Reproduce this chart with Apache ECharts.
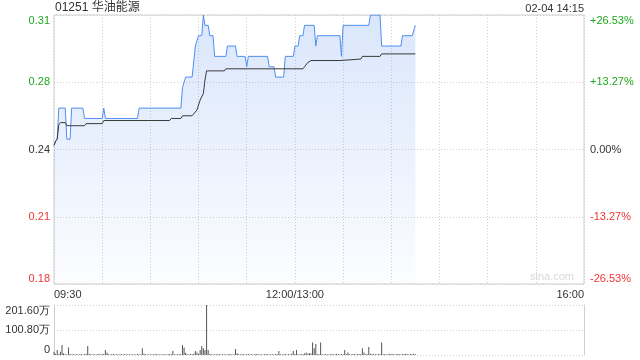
<!DOCTYPE html>
<html><head><meta charset="utf-8">
<script src="https://cdn.jsdelivr.net/npm/echarts@6/dist/echarts.min.js"></script>
<style>html,body{margin:0;padding:0;background:#fff}#c{width:640px;height:360px}</style>
</head><body><div id="c"></div>
<script>
const stockTitle = '01251 华油能源';
const stampText = '02-04 14:15';
const watermark = 'sina.com';

const priceTimes = ['09:30','09:31','09:32','09:33','09:37','09:38','09:40','09:41','09:48','09:49','10:00','10:01','10:02','10:22','10:23','10:49','10:50','10:51','10:52','10:56','10:58','10:59','11:00','11:02','11:03','11:04','11:06','11:07','11:09','11:10','11:17','11:18','11:23','11:24','11:29','11:30','11:31','11:43','11:44','11:47','11:48','11:53','11:54','11:59','12:00','13:02','13:03','13:05','13:06','13:12','13:13','13:14','13:28','13:29','13:30','13:46','13:47','13:53','13:54','14:06','14:07','14:13','14:14','14:15'];
const priceValues = [0.247,0.249,0.250,0.265,0.265,0.250,0.250,0.265,0.265,0.260,0.260,0.265,0.260,0.260,0.265,0.265,0.275,0.275,0.280,0.280,0.295,0.295,0.300,0.300,0.310,0.305,0.305,0.300,0.300,0.290,0.290,0.295,0.295,0.290,0.290,0.285,0.290,0.290,0.285,0.285,0.280,0.280,0.290,0.290,0.295,0.295,0.300,0.300,0.305,0.305,0.295,0.300,0.300,0.290,0.305,0.305,0.310,0.310,0.295,0.295,0.300,0.300,0.300,0.305];

const avgTimes = ['09:30','09:31','09:32','09:33','09:34','09:37','09:38','09:49','09:50','10:00','10:01','10:42','10:43','10:49','10:50','10:56','10:57','10:59','11:01','11:03','11:04','11:05','11:16','11:17','13:05','13:06','13:08','13:10','13:28','13:29','13:41','13:42','13:53','13:54','14:15'];
const avgValues = [0.247,0.249,0.250,0.257,0.258,0.258,0.2565,0.2565,0.2575,0.2575,0.259,0.259,0.260,0.260,0.2613,0.2613,0.2617,0.2641,0.2689,0.2721,0.2786,0.283,0.283,0.284,0.284,0.285,0.287,0.288,0.288,0.2887,0.2887,0.290,0.290,0.2912,0.2912];

// volume per minute from 09:30, in 万股
const volumes = [
13,5,20,4,13,40,7,3,2,30,
4,2,3,2,3,2,3,4,2,3,
5,36,4,3,2,3,2,3,4,2,
3,4,20,9,3,2,3,4,2,3,
2,3,3,2,4,2,3,2,3,2,
3,2,4,3,2,27,5,3,2,3,
2,3,2,4,3,2,3,2,3,3,
2,3,4,3,16,3,2,3,4,3,
40,30,9,3,2,4,3,5,16,10,
5,20,36,27,20,201.6,20,4,3,2,
3,2,4,3,2,3,2,3,2,4,
3,2,3,24,7,3,2,4,3,2,
3,4,2,3,2,3,4,3,2,3,
2,3,4,3,2,3,3,2,4,3,
16,3,2,3,4,2,3,2,5,16,
4,20,3,2,4,3,6,10,5,8,
6,50,27,44,4,3,50,3,2,4,
3,2,3,4,2,3,5,3,2,4,
3,20,4,10,3,2,3,4,2,3,
4,3,27,10,3,4,32,5,3,4,
3,2,4,3,50,3,4,2,3,5,
3,4,2,3,4,3,2,3,4,5,
3,2,4,3,5,3];

const prevClose = 0.245;
const priceMin = 0.18, priceMax = 0.31;
const priceTickLabels = ['0.18','0.21','0.24','0.28','0.31'];
const pctTickLabels = ['-26.53%','-13.27%','0.00%','+13.27%','+26.53%'];
const volMax = 201.6;
const volTickLabels = ['0','100.80万','201.60万'];
const timeLabelTimes = ['09:30','12:00','16:00'];
const timeLabelTexts = ['09:30','12:00/13:00','16:00'];

function tIdx(t){
  const p = t.split(':').map(Number);
  const mins = p[0]*60 + p[1];
  return mins <= 720 ? mins - 570 : 150 + (mins - 780);
}
const totalMin = tIdx('16:00');
const GREEN = '#1ea81e', RED = '#f23434', DARK = '#333';
const FONT = "'Liberation Sans', Arial, sans-serif";
const pColors = [RED, RED, DARK, GREEN, GREEN];

const chart = echarts.init(document.getElementById('c'), null, {renderer: 'canvas'});
const dotted = {show: true, lineStyle: {color: '#d0d0d0', type: [1, 2], width: 1}};

chart.setOption({
  animation: false,
  backgroundColor: '#fff',
  graphic: [
    {type: 'text', left: 55, top: 2, style: {text: stockTitle, font: "12px 'Liberation Sans', 'Noto Sans CJK SC', sans-serif", fill: '#333'}},
    {type: 'text', right: 56, top: 3, style: {text: stampText, font: '11px ' + FONT, fill: '#333'}},
    {type: 'text', right: 66, top: 271, style: {text: watermark, font: '11px ' + FONT, fill: '#d8d8d8'}}
  ],
  grid: [
    {left: 54, right: 56, top: 15, height: 269, show: true, borderColor: '#cfcfcf', borderWidth: 1, backgroundColor: 'transparent'},
    {left: 54, right: 56, top: 305, height: 50}
  ],
  xAxis: [
    {gridIndex: 0, type: 'value', min: 0, max: totalMin, interval: 30,
     axisLine: {show: false}, axisTick: {show: false}, splitLine: dotted,
     axisLabel: {margin: 5, color: '#333', fontSize: 11, fontFamily: FONT, alignMinLabel: 'left', alignMaxLabel: 'right',
       formatter: function(v){ for (let i = 0; i < timeLabelTimes.length; i++) { if (tIdx(timeLabelTimes[i]) === v) return timeLabelTexts[i]; } return ''; }}},
    {gridIndex: 1, type: 'value', min: 0, max: totalMin, interval: 30,
     axisLine: {show: false}, axisTick: {show: false}, splitLine: {show: false}, axisLabel: {show: false}}
  ],
  yAxis: [
    {gridIndex: 0, type: 'value', min: priceMin, max: priceMax, interval: (priceMax - priceMin) / 4, position: 'left',
     axisLine: {show: false}, axisTick: {show: false}, splitLine: dotted,
     axisLabel: {margin: 4, fontSize: 11, fontFamily: FONT, verticalAlignMinLabel: 'bottom', verticalAlignMaxLabel: 'top',
       formatter: function(v, i){ return priceTickLabels[i]; },
       color: function(v, i){ return pColors[i]; }}},
    {gridIndex: 0, type: 'value', min: priceMin, max: priceMax, interval: (priceMax - priceMin) / 4, position: 'right',
     axisLine: {show: false}, axisTick: {show: false}, splitLine: {show: false},
     axisLabel: {margin: 6, fontSize: 11, fontFamily: FONT, verticalAlignMinLabel: 'bottom', verticalAlignMaxLabel: 'top',
       formatter: function(v, i){ return pctTickLabels[i]; },
       color: function(v, i){ return pColors[i]; }}},
    {gridIndex: 1, type: 'value', min: 0, max: volMax, interval: volMax / 2, position: 'left',
     axisLine: {show: true, lineStyle: {color: '#cfcfcf'}}, axisTick: {show: false}, splitLine: dotted,
     axisLabel: {margin: 4, fontSize: 11, fontFamily: FONT, color: '#333', verticalAlignMinLabel: 'bottom', verticalAlignMaxLabel: 'top',
       formatter: function(v, i){ return volTickLabels[i]; }}},
    {gridIndex: 1, type: 'value', min: 0, max: volMax, interval: volMax / 2, position: 'right',
     axisLine: {show: true, lineStyle: {color: '#cfcfcf'}}, axisTick: {show: false}, splitLine: {show: false}, axisLabel: {show: false}}
  ],
  series: [
    {type: 'line', xAxisIndex: 0, yAxisIndex: 0, showSymbol: false, silent: true,
     data: priceTimes.map((t, i) => [tIdx(t), priceValues[i]]),
     lineStyle: {color: '#4f8ef2', width: 1},
     areaStyle: {origin: 'start', color: new echarts.graphic.LinearGradient(0, 0, 0, 1, [
       {offset: 0, color: 'rgba(90,145,240,0.32)'}, {offset: 1, color: 'rgba(90,145,240,0.03)'}])}},
    {type: 'line', xAxisIndex: 0, yAxisIndex: 0, showSymbol: false, silent: true,
     data: avgTimes.map((t, i) => [tIdx(t), avgValues[i]]),
     lineStyle: {color: '#3a3a3a', width: 1}},
    {type: 'bar', xAxisIndex: 1, yAxisIndex: 2, barWidth: 1, silent: true,
     data: volumes.map((v, i) => [i, v]),
     itemStyle: {color: '#555'}}
  ]
});
</script></body></html>
